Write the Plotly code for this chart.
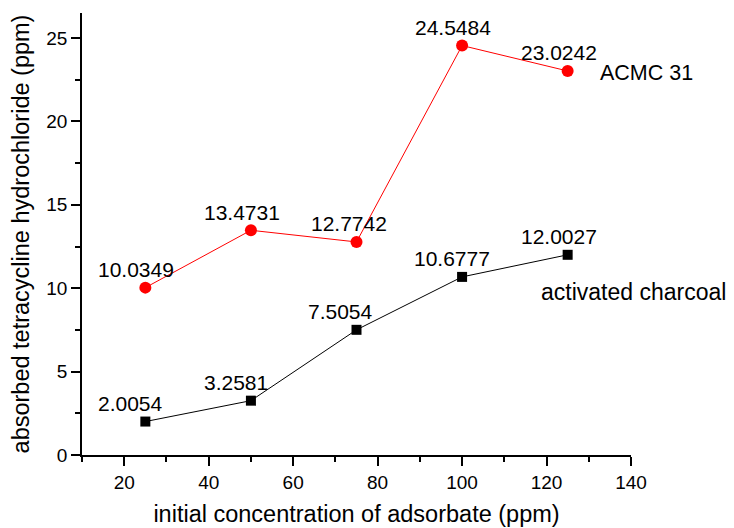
import plotly.graph_objects as go

# Data
concentration = [25, 50, 75, 100, 125]
acmc31 = [10.0349, 13.4731, 12.7742, 24.5484, 23.0242]
charcoal = [2.0054, 3.2581, 7.5054, 10.6777, 12.0027]
acmc_labels = ["10.0349", "13.4731", "12.7742", "24.5484", "23.0242"]
charcoal_labels = ["2.0054", "3.2581", "7.5054", "10.6777", "12.0027"]
series_names = ["ACMC 31", "activated charcoal"]

FONT = "Liberation Sans, Arial, sans-serif"

fig = go.Figure()
fig.add_trace(go.Scatter(
    x=concentration, y=acmc31, mode="lines+markers", name=series_names[0],
    line=dict(color="#ff0000", width=1),
    marker=dict(symbol="circle", size=12, color="#ff0000"),
))
fig.add_trace(go.Scatter(
    x=concentration, y=charcoal, mode="lines+markers", name=series_names[1],
    line=dict(color="#000000", width=1),
    marker=dict(symbol="square", size=10, color="#000000"),
))

annotations = []
acmc_dx = [-9, -9, -8, -9, -9]
char_dx = [-15, -15, -16, -10, -9]
for x, y, t, dx in zip(concentration, acmc31, acmc_labels, acmc_dx):
    annotations.append(dict(x=x, y=y, text=t, showarrow=False, xref="x", yref="y",
                            xanchor="center", yanchor="middle", xshift=dx, yshift=18,
                            font=dict(family=FONT, size=21, color="black")))
for x, y, t, dx in zip(concentration, charcoal, charcoal_labels, char_dx):
    annotations.append(dict(x=x, y=y, text=t, showarrow=False, xref="x", yref="y",
                            xanchor="center", yanchor="middle", xshift=dx, yshift=18,
                            font=dict(family=FONT, size=21, color="black")))
# series name labels
annotations.append(dict(x=concentration[-1], y=acmc31[-1], text=series_names[0], showarrow=False,
                        xanchor="left", yanchor="middle", xshift=30, yshift=-2,
                        font=dict(family=FONT, size=21.5, color="black")))
annotations.append(dict(x=concentration[-1], y=charcoal[-1], text=series_names[1], showarrow=False,
                        xanchor="left", yanchor="middle", xshift=-29, yshift=-37,
                        font=dict(family=FONT, size=23, color="black")))

axis_common = dict(
    showline=True, linecolor="black", linewidth=1.5, mirror=False,
    ticks="outside", ticklen=9, tickwidth=1.5, tickcolor="black",
    showgrid=False, zeroline=False,
    tickfont=dict(family=FONT, size=19, color="black"),
)

# page body has an 8px default margin, so the figure is sized to fit the window
fig.update_layout(
    width=726, height=520,
    margin=dict(l=74, r=103, t=5, b=60),
    plot_bgcolor="white", paper_bgcolor="white",
    showlegend=False,
    annotations=annotations,
    xaxis=dict(range=[10, 140], tick0=0, dtick=20,
               minor=dict(ticks="outside", ticklen=5, tickwidth=1.5, tickcolor="black", dtick=10, tick0=0),
               title=dict(text="initial concentration of adsorbate (ppm)",
                          font=dict(family=FONT, size=23.5, color="black"), standoff=14),
               **axis_common),
    yaxis=dict(range=[0, 26.5], tick0=0, dtick=5,
               minor=dict(ticks="outside", ticklen=5, tickwidth=1.5, tickcolor="black", dtick=2.5, tick0=0),
               title=dict(text="absorbed tetracycline hydrochloride (ppm)",
                          font=dict(family=FONT, size=23.5, color="black"), standoff=12),
               **axis_common),
)

fig.write_html("out.html")
